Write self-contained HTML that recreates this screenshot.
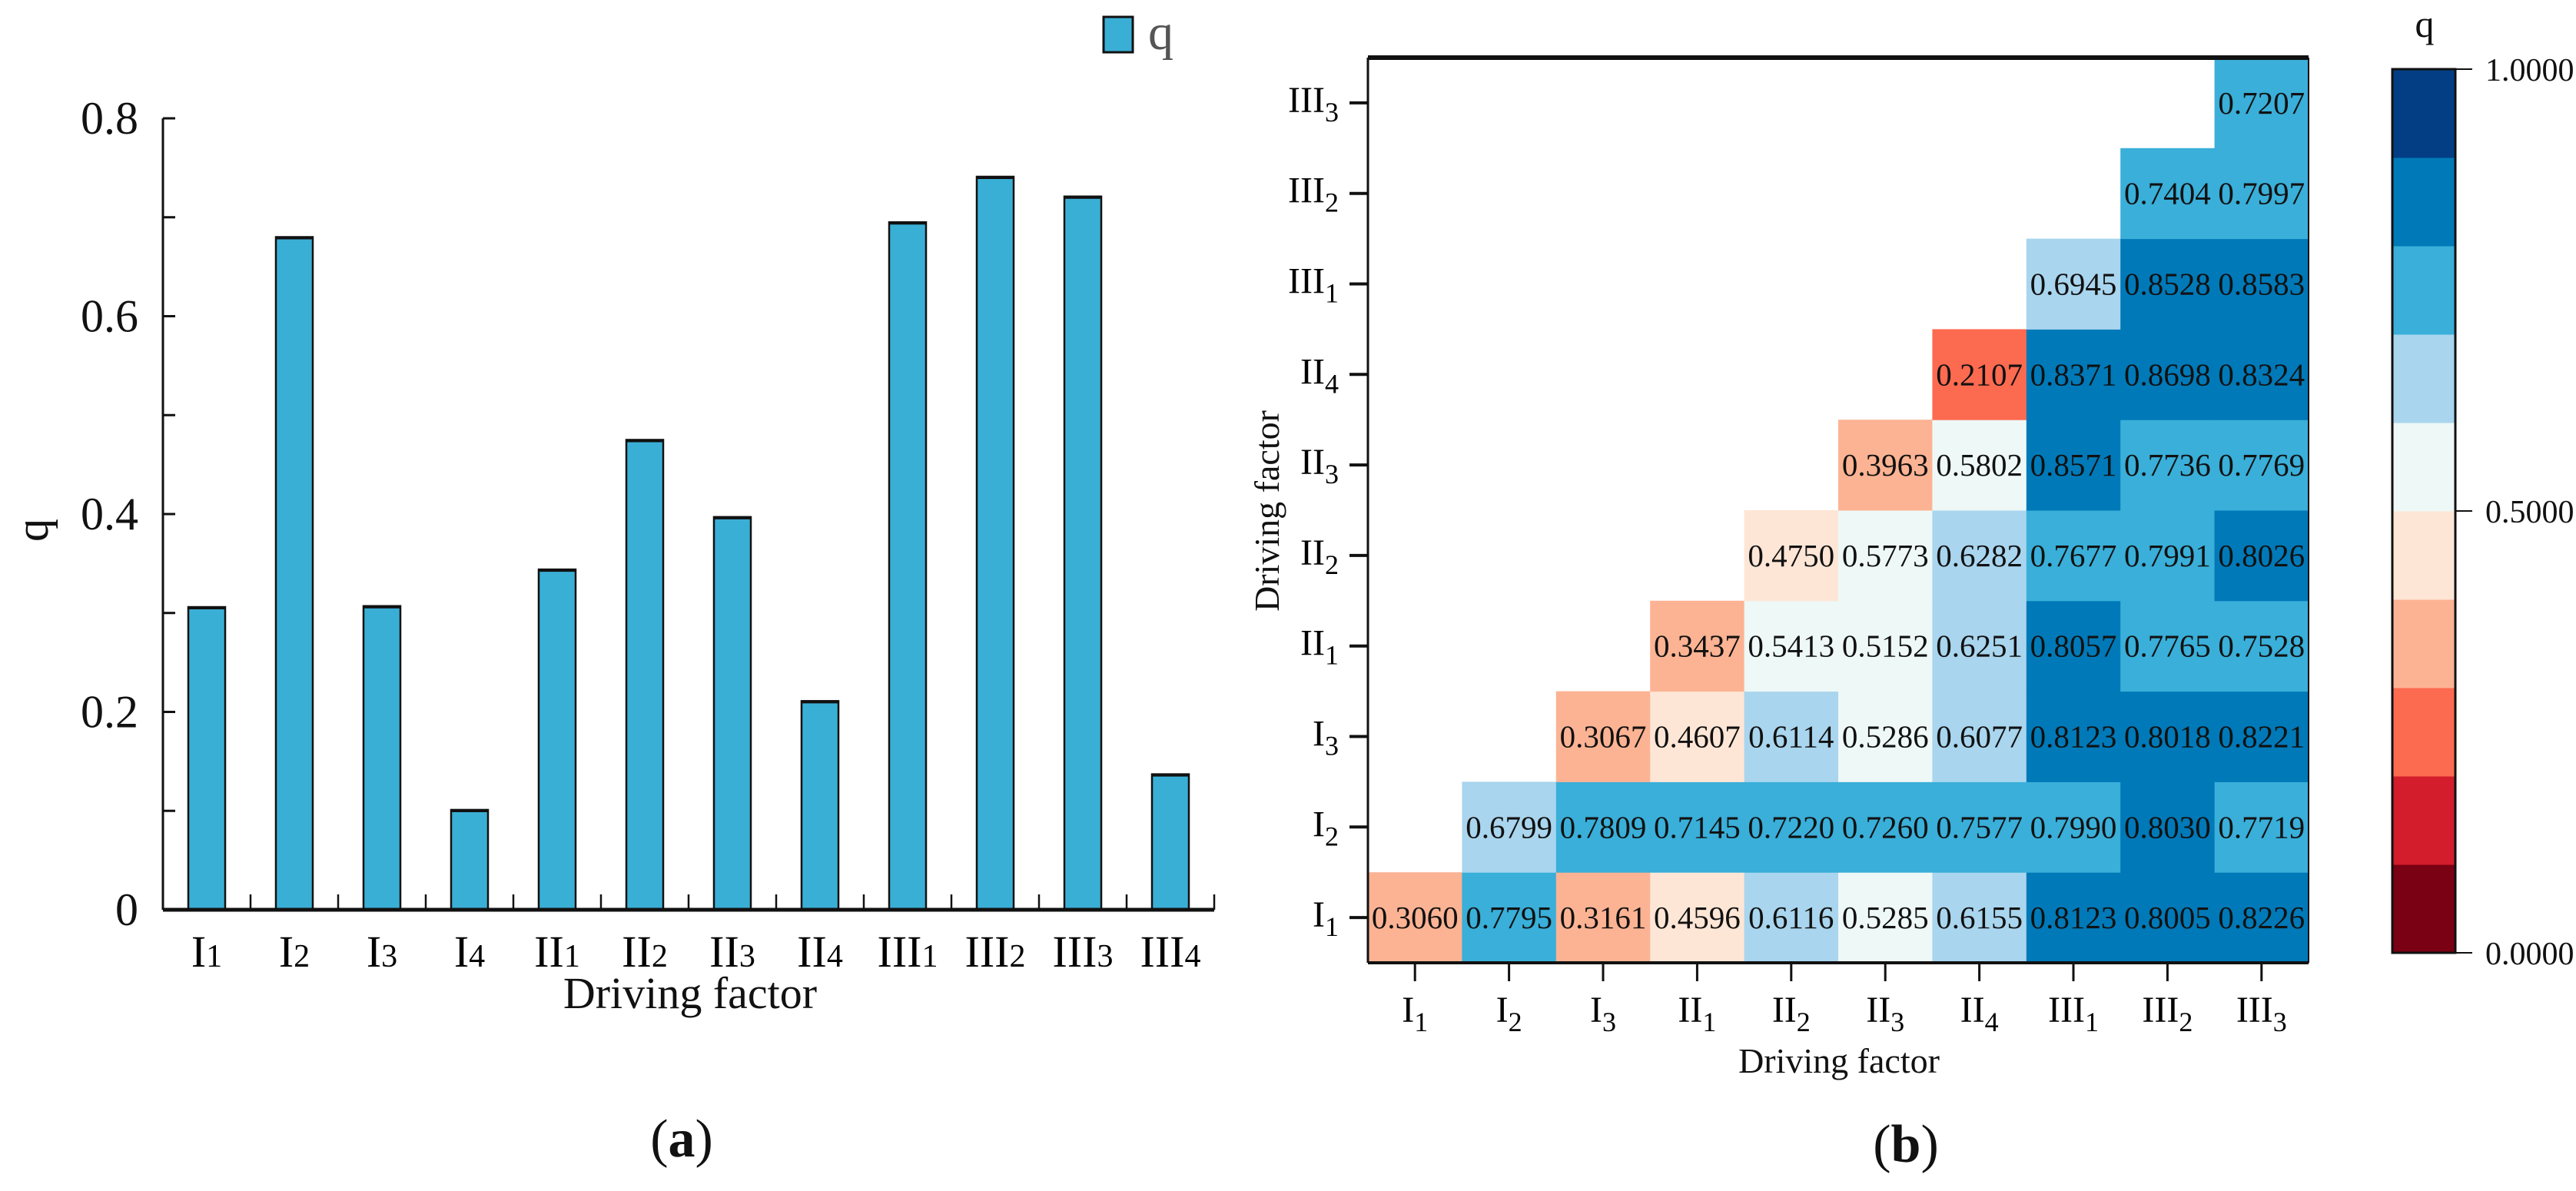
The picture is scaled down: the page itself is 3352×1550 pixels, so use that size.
<!DOCTYPE html>
<html><head><meta charset="utf-8"><style>
html,body{margin:0;padding:0;background:#fff;}
svg{display:block;font-family:"Liberation Serif",serif;}
svg text{font-family:"Liberation Serif",serif;}
</style></head><body>
<svg id="fig" width="3352" height="1550" viewBox="0 0 3352 1550" xmlns="http://www.w3.org/2000/svg" font-family="Liberation Serif, serif">
<g id="chartA"></g>
<g id="chartB"></g>
</svg>
<script>
// ---- Chart (a) data ----
const barRoman = ["I","I","I","I","II","II","II","II","III","III","III","III"];
const barSub = ["1","2","3","4","1","2","3","4","1","2","3","4"];
const barValues = [0.306,0.680,0.307,0.101,0.344,0.475,0.397,0.211,0.695,0.741,0.721,0.137];
const yTickValues = [0,0.2,0.4,0.6,0.8];
const yTickLabels = ["0","0.2","0.4","0.6","0.8"];

// ---- Chart (b) data ----
const hmRoman = ["I","I","I","II","II","II","II","III","III","III"];
const hmSub = ["1","2","3","1","2","3","4","1","2","3"];
// rows bottom->top (I1..III3), values from column = row index to end
const hmRows = [
 [0.3060,0.7795,0.3161,0.4596,0.6116,0.5285,0.6155,0.8123,0.8005,0.8226],
 [0.6799,0.7809,0.7145,0.7220,0.7260,0.7577,0.7990,0.8030,0.7719],
 [0.3067,0.4607,0.6114,0.5286,0.6077,0.8123,0.8018,0.8221],
 [0.3437,0.5413,0.5152,0.6251,0.8057,0.7765,0.7528],
 [0.4750,0.5773,0.6282,0.7677,0.7991,0.8026],
 [0.3963,0.5802,0.8571,0.7736,0.7769],
 [0.2107,0.8371,0.8698,0.8324],
 [0.6945,0.8528,0.8583],
 [0.7404,0.7997],
 [0.7207]
];
const cbColors = ["#7a0013","#d31c2c","#fc6a50","#fcb393","#fee6d6","#eef8f7","#a9d5ee","#39afd9","#0079b8","#033e84"];
const cbTickValues = [0,0.5,1];
const cbTickLabels = ["0.0000","0.5000","1.0000"];

const NS="http://www.w3.org/2000/svg";
function mk(parent,tag,attrs,text){
  const e=document.createElementNS(NS,tag);
  for(const k in attrs) e.setAttribute(k,attrs[k]);
  if(tag==="text") e.setAttribute("font-family","Liberation Serif, serif");
  if(text!==undefined) e.textContent=text;
  parent.appendChild(e); return e;
}
function subLabel(parent,x,y,roman,sub,size,subSize,dy,anchor){
  const t=mk(parent,"text",{x:x,y:y,"font-size":size,"text-anchor":anchor});
  mk(t,"tspan",{},roman);
  mk(t,"tspan",{"font-size":subSize,dy:dy},sub);
  return t;
}

// ===== Chart A =====
const A=document.getElementById("chartA");
const ax0=212, ax1=1580, ay0=1184, ayTop=154, yMax=0.8;
const yA=v=>ay0-(v/yMax)*(ay0-ayTop);
const band=(ax1-ax0)/barValues.length;
const xA=i=>ax0+band*(i+0.5);
barValues.forEach((v,i)=>{
  const r=mk(A,"rect",{x:xA(i)-24,y:yA(v),width:48,height:ay0-yA(v),fill:"#3aafd6",stroke:"#111","stroke-width":2.5});
  
  
  mk(A,"line",{x1:xA(i)-24,x2:xA(i)+24,y1:yA(v)+1,y2:yA(v)+1,stroke:"#111","stroke-width":4});
});
const yax=mk(A,"line",{x1:ax0,x2:ax0,y1:ayTop,y2:ay0,stroke:"#111","stroke-width":3});


for(let k=0;k<=8;k++){
  const y=yA(k*0.1);
  mk(A,"line",{x1:ax0,x2:ax0+16,y1:y,y2:y,stroke:"#111","stroke-width":3});
}
yTickValues.forEach((v,i)=>{
  const t=mk(A,"text",{x:ax0-32,y:yA(v)+20,"font-size":60,"text-anchor":"end",fill:"#111"},yTickLabels[i]);
  
  
});
const xax=mk(A,"line",{x1:ax0,x2:ax1,y1:ay0,y2:ay0,stroke:"#111","stroke-width":5});


for(let i=1;i<=barValues.length;i++){
  const x=ax0+band*i;
  mk(A,"line",{x1:x,x2:x,y1:ay0,y2:ay0-20,stroke:"#111","stroke-width":2.5});
}
barValues.forEach((v,i)=>{
  const t=subLabel(A,xA(i),1258,barRoman[i],barSub[i],58,42,0,"middle");
  
  
});
const xt=mk(A,"text",{x:898,y:1312,"font-size":58,"text-anchor":"middle",fill:"#111"},"Driving factor");


const yt=mk(A,"text",{x:0,y:0,"font-size":60,"text-anchor":"middle",transform:"translate(62,690) rotate(-90)",fill:"#111"},"q");


const lg=mk(A,"g",{});


mk(lg,"rect",{x:1436,y:22,width:38,height:46,fill:"#3aafd6",stroke:"#111","stroke-width":3});
mk(lg,"text",{x:1494,y:64,"font-size":66,fill:"#555"},"q");
const ca=mk(A,"text",{x:887,y:1505,"font-size":70,"text-anchor":"middle",fill:"#111"},"");
mk(ca,"tspan",{},"(");mk(ca,"tspan",{"font-weight":"bold"},"a");mk(ca,"tspan",{},")");



// ===== Chart B =====
const B=document.getElementById("chartB");
const bx0=1780,bx1=3004,by0=75,by1=1253,n=hmRoman.length;
const cw=(bx1-bx0)/n, ch=(by1-by0)/n;
const xB=c=>bx0+c*cw;
const yB=r=>by1-(r+1)*ch;
const colorFor=v=>cbColors[Math.min(9,Math.floor(v*10))];
hmRows.forEach((row,r)=>{
  row.forEach((v,j)=>{
    const c=r+j;
    const cell=mk(B,"rect",{x:xB(c),y:yB(r),width:cw+0.5,height:ch+0.5,fill:colorFor(v)});
    
    
    const t=mk(B,"text",{x:xB(c)+cw/2,y:yB(r)+ch/2+14,"font-size":41,"text-anchor":"middle",fill:"#111"},v.toFixed(4));
    
    
  });
});
mk(B,"line",{x1:bx0,x2:bx1,y1:by0,y2:by0,stroke:"#111","stroke-width":6});
mk(B,"line",{x1:bx0,x2:bx1,y1:by1,y2:by1,stroke:"#111","stroke-width":4});
mk(B,"line",{x1:bx0,x2:bx0,y1:by0,y2:by1,stroke:"#111","stroke-width":3});
mk(B,"line",{x1:bx1,x2:bx1,y1:by0,y2:by1,stroke:"#111","stroke-width":2});
for(let i=0;i<n;i++){
  const y=yB(i)+ch/2;
  mk(B,"line",{x1:bx0-24,x2:bx0,y1:y,y2:y,stroke:"#111","stroke-width":4});
  const tl=subLabel(B,1742,y+12,hmRoman[i],hmSub[i],48,36,12,"end");
  
  
  const x=xB(i)+cw/2;
  mk(B,"line",{x1:x,x2:x,y1:by1,y2:by1+24,stroke:"#111","stroke-width":3});
  const xl=subLabel(B,x,1330,hmRoman[i],hmSub[i],48,36,12,"middle");
  
  
}
const bxt=mk(B,"text",{x:2393,y:1396,"font-size":46,"text-anchor":"middle",fill:"#111"},"Driving factor");


const byt=mk(B,"text",{x:0,y:0,"font-size":46,"text-anchor":"middle",transform:"translate(1664,665) rotate(-90)",fill:"#111"},"Driving factor");


const cbx=3113,cbw=82,cbt=90,cbb=1240;
const cbh=(cbb-cbt)/cbColors.length;
const cb=mk(B,"g",{});


cbColors.forEach((col,i)=>{
  mk(cb,"rect",{x:cbx,y:cbb-(i+1)*cbh,width:cbw,height:cbh+0.5,fill:col});
});
mk(cb,"rect",{x:cbx,y:cbt,width:cbw,height:cbb-cbt,fill:"none",stroke:"#111","stroke-width":3});
cbTickValues.forEach((v,i)=>{
  const y=cbb-v*(cbb-cbt);
  mk(cb,"line",{x1:cbx+cbw,x2:cbx+cbw+22,y1:y,y2:y,stroke:"#111","stroke-width":2});
  const t=mk(cb,"text",{x:3234,y:y+15,"font-size":42,fill:"#111"},cbTickLabels[i]);
  
  
});
const cbq=mk(cb,"text",{x:3155,y:48,"font-size":50,"text-anchor":"middle",fill:"#111"},"q");


const cbl=mk(B,"text",{x:2480,y:1512,"font-size":70,"text-anchor":"middle",fill:"#111"},"");
mk(cbl,"tspan",{},"(");mk(cbl,"tspan",{"font-weight":"bold"},"b");mk(cbl,"tspan",{},")");


</script>
</body></html>
